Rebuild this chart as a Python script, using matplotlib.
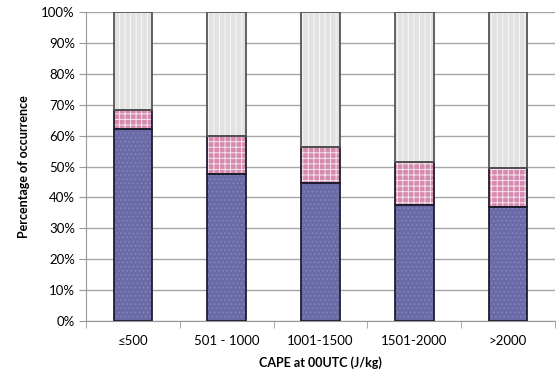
import numpy as np
import matplotlib.pyplot as plt
from matplotlib.ticker import FixedLocator, PercentFormatter

plt.rcParams['font.family'] = ['Lato', 'DejaVu Sans']
plt.rcParams['hatch.linewidth'] = 0.7

categories = ['≤500', '501 - 1000', '1001-1500', '1501-2000', '>2000']
low = [62.0, 47.5, 44.5, 37.5, 36.8]
mid = [6.4, 12.3, 11.7, 13.8, 12.7]
high = [100 - a - b for a, b in zip(low, mid)]

x = np.arange(len(categories))
w = 0.41

fig = plt.figure(figsize=(5.59, 3.78), dpi=100)
ax = fig.add_axes([86/559, 1 - 321/378, 469/559, 309/378])

bottoms = np.zeros(len(x))
styles = [
    (low, '#6a6aa6', '#8484bc', '....', '#1e1e30'),
    (mid, '#d68aae', '#f4e4ec', '+++', '#1e1e30'),
    (high, '#e2e2e2', '#f8f8f8', '|||', '#555555'),
]
for vals, fc, hc, hatch, ec in styles:
    ax.bar(x, vals, w, bottom=bottoms, color=fc, edgecolor=hc, hatch=hatch,
           linewidth=0, zorder=3)
    ax.bar(x, vals, w, bottom=bottoms, facecolor='none', edgecolor=ec,
           linewidth=1.3, zorder=4)
    bottoms += np.array(vals)

ax.set_xlim(-0.5, len(x) - 0.5)
ax.set_ylim(0, 100)
ax.set_yticks(np.arange(0, 101, 10))
ax.yaxis.set_major_formatter(PercentFormatter(decimals=0))
ax.set_xticks(x)
ax.set_xticklabels(categories)
ax.xaxis.set_minor_locator(FixedLocator(np.arange(-0.5, len(x), 1.0)))
ax.tick_params(axis='x', which='major', length=0, pad=10, labelsize=9.5)
ax.tick_params(axis='x', which='minor', length=5, color='#999999')
ax.tick_params(axis='y', length=5, color='#999999', labelsize=9.5, pad=3)

ax.grid(axis='y', color='#a6a6a6', linewidth=1, zorder=0)
for s in ['top', 'right']:
    ax.spines[s].set_visible(False)
for s in ['left', 'bottom']:
    ax.spines[s].set_color('#999999')

ax.set_ylabel('Percentage of occurrence', fontweight='bold', fontsize=9, labelpad=8)
ax.set_xlabel('CAPE at 00UTC (J/kg)', fontweight='bold', fontsize=9, labelpad=7)

fig.savefig('out.png', dpi=100)
